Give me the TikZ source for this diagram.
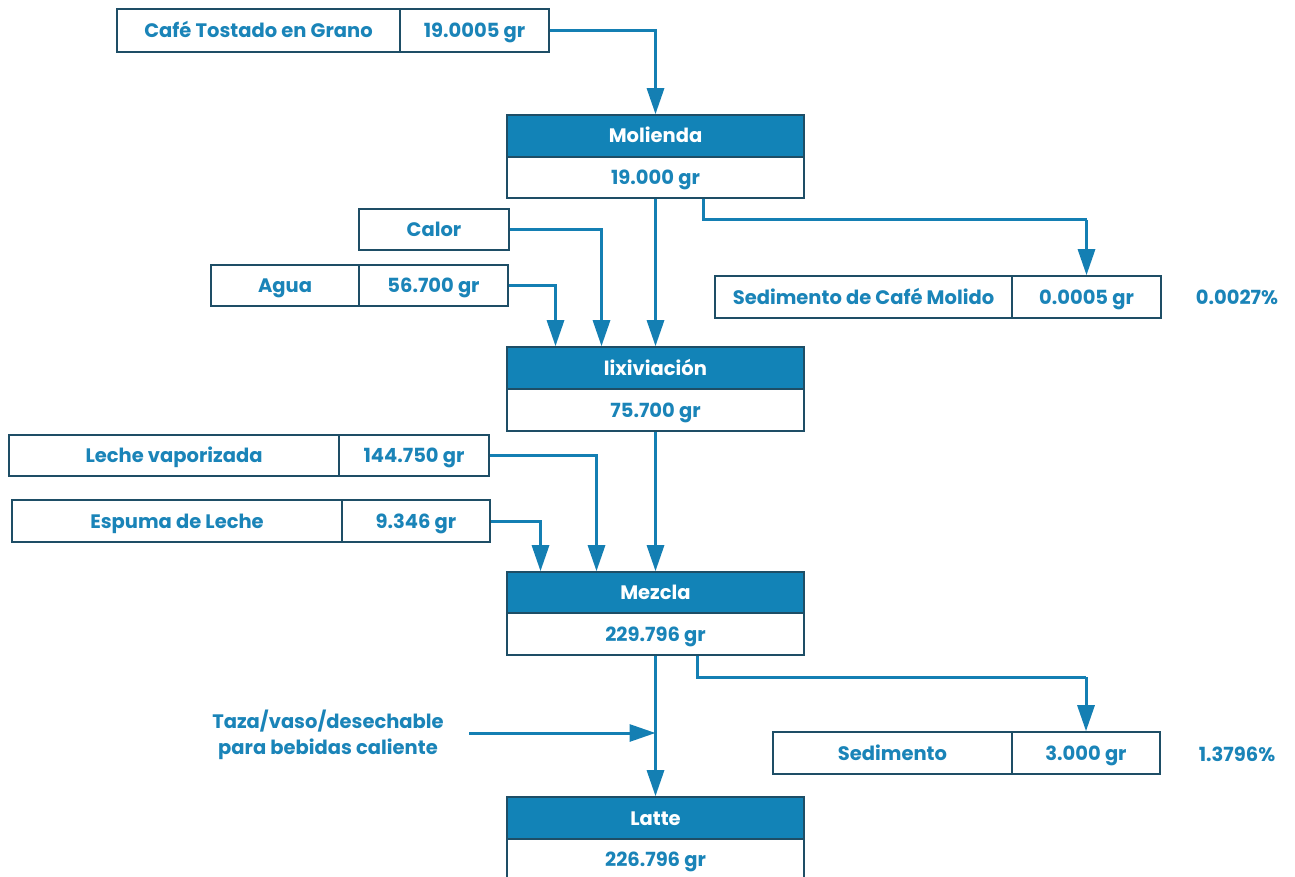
\documentclass[tikz,border=0pt]{standalone}
\usepackage{fontspec}
\setmainfont{Poppins}
\usetikzlibrary{arrows.meta}
\definecolor{inkblue}{HTML}{1A84B8}
\definecolor{headblue}{HTML}{1283B7}
\definecolor{edgeblue}{HTML}{1E4E66}
\definecolor{flowblue}{HTML}{147FB3}
\newcommand{\labelfont}{\fontsize{19.5}{26}\selectfont\bfseries}
\tikzset{
  cell/.style={draw=edgeblue, line width=1.6pt, fill=white, inner sep=0pt,
    text=inkblue, font=\labelfont, text height=14pt, text depth=0pt},
  head/.style={cell, fill=headblue, text=white},
  plain/.style={inner sep=0pt, text=inkblue, font=\labelfont, align=center},
  flow/.style={draw=flowblue, line width=3pt,
    -{Triangle[length=26pt,width=17pt]}},
}
\newcommand{\cellat}[6]{% name, x1, y1, x2, y2, text
  \node[cell, minimum width={#4-#2}, minimum height={#5-#3}] (#1) at ({(#2+#4)/2},{(#3+#5)/2}) {#6};}
\newcommand{\headat}[6]{%
  \node[head, minimum width={#4-#2}, minimum height={#5-#3}] (#1) at ({(#2+#4)/2},{(#3+#5)/2}) {#6};}
\begin{document}
\begin{tikzpicture}[x=1pt,y=-1pt]
\useasboundingbox[fill=white] (0,0) rectangle (1295,877);

% input: roasted beans
\cellat{cafe}{117}{9}{400}{52}{Café Tostado en Grano}
\cellat{cafev}{400}{9}{549}{52}{19.0005 gr}

% process: grinding
\headat{mol}{507}{115}{804}{157}{Molienda}
\cellat{molv}{507}{157}{804}{198}{19.000 gr}

% output: ground coffee sediment
\cellat{sed}{715}{276}{1012}{318}{Sedimento de Café Molido}
\cellat{sedv}{1012}{276}{1161}{318}{0.0005 gr}
\node[plain, text height=14pt, text depth=0pt] (sedp) at (1237,297) {0.0027\%};

% inputs: heat and water
\cellat{calor}{359}{209}{509}{250}{Calor}
\cellat{agua}{211}{265}{359}{306}{Agua}
\cellat{aguav}{359}{265}{508}{306}{56.700 gr}

% process: leaching
\headat{lix}{507}{347}{804}{389}{lixiviación}
\cellat{lixv}{507}{389}{804}{431}{75.700 gr}

% inputs: milk
\cellat{leche}{9}{435}{339}{476}{Leche vaporizada}
\cellat{lechev}{339}{435}{489}{476}{144.750 gr}
\cellat{esp}{12}{500}{342}{542}{Espuma de Leche}
\cellat{espv}{342}{500}{490}{542}{9.346 gr}

% process: mixing
\headat{mez}{507}{572}{804}{613}{Mezcla}
\cellat{mezv}{507}{613}{804}{655}{229.796 gr}

% output: sediment
\cellat{sedb}{773}{732}{1012}{774}{Sedimento}
\cellat{sedbv}{1012}{732}{1160}{774}{3.000 gr}
\node[plain, text height=14pt, text depth=0pt] (sedbp) at (1237,754) {1.3796\%};

% cup
\node[plain] (taza) at (328,735) {Taza/vaso/desechable\\para bebidas caliente};

% product
\headat{latte}{507}{797}{804}{839}{Latte}
\cellat{lattev}{507}{839}{804}{880}{226.796 gr}

% connectors
\coordinate (b1) at (0,220);
\coordinate (b2) at (0,677);
\coordinate (tz) at (469,733);
\draw[flow] (cafev.east) -| (mol.north);
\draw[flow] (molv.south) -- (lix.north);
\draw[flow, -] ([xshift=48pt]molv.south) |- (b1 -| sedv.north);
\draw[flow] (b1 -| sedv.north) -- (sedv.north);
\draw[flow] (calor.east) -| ([xshift=-54pt]lix.north);
\draw[flow] (aguav.east) -| ([xshift=-100pt]lix.north);
\draw[flow] (lixv.south) -- (mez.north);
\draw[flow] (lechev.east) -| ([xshift=-59pt]mez.north);
\draw[flow] (espv.east) -| ([xshift=-115pt]mez.north);
\draw[flow] (mezv.south) -- (latte.north);
\draw[flow, -] ([xshift=42pt]mezv.south) |- (b2 -| sedbv.north);
\draw[flow] (b2 -| sedbv.north) -- (sedbv.north);
\draw[flow] (tz) -- (tz -| latte.north);
\end{tikzpicture}
\end{document}
